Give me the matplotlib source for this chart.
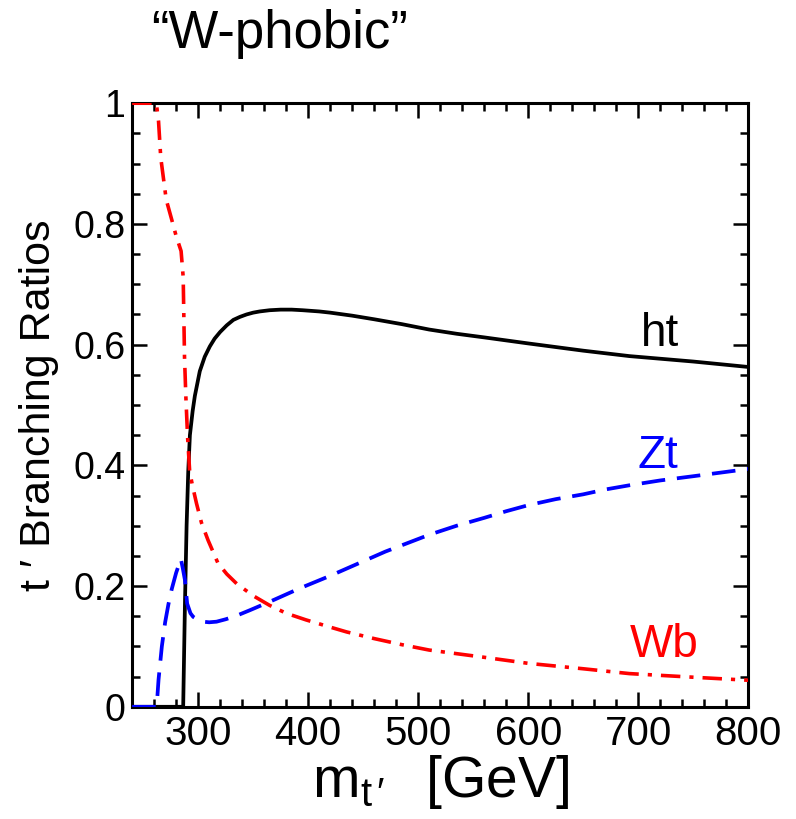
import matplotlib
matplotlib.use("Agg")
import matplotlib.pyplot as plt
from matplotlib.ticker import MultipleLocator

plt.rcParams['font.family'] = ['Liberation Sans', 'DejaVu Sans']
plt.rcParams['mathtext.fontset'] = 'custom'
plt.rcParams['mathtext.rm'] = 'Liberation Sans'
plt.rcParams['mathtext.it'] = 'Liberation Sans'
plt.rcParams['lines.scale_dashes'] = False

# ---- data ----
wb_x = [240, 262, 264, 266, 271, 276, 280, 284.5, 286.4, 287, 287.6, 288.8, 290.4, 292.3,
        295, 298.5, 303, 309, 318, 326, 335, 350, 365, 380, 398, 420, 435, 460, 485, 510,
        535, 560, 600, 650, 692, 750, 800]
wb_y = [1, 1, 0.97, 0.91, 0.84, 0.807, 0.78, 0.755, 0.712, 0.646, 0.58, 0.515, 0.447, 0.39,
        0.365, 0.337, 0.305, 0.276, 0.238, 0.22, 0.204, 0.184, 0.168, 0.155, 0.144, 0.132,
        0.124, 0.113, 0.103, 0.094, 0.088, 0.082, 0.072, 0.063, 0.055, 0.049, 0.044]

ht_x = [240, 286.4, 288, 289.5, 291, 292.5, 295, 297, 301.5, 306, 310.6, 315, 320, 326,
        332, 338, 344, 350, 356, 365, 375, 385, 395, 410, 420, 440, 460, 485, 510, 535, 560,
        600, 650, 692, 750, 800]
ht_y = [0, 0, 0.17, 0.30, 0.39, 0.45, 0.49, 0.515, 0.556, 0.58, 0.597, 0.610, 0.621, 0.632,
        0.641, 0.646, 0.650, 0.653, 0.655, 0.657, 0.658, 0.658, 0.657, 0.655, 0.653, 0.648,
        0.642, 0.634, 0.625, 0.618, 0.612, 0.602, 0.590, 0.581, 0.572, 0.563]

zt_x = [240, 262.3, 264, 267, 270, 273, 276, 280, 284.3, 286, 288, 290, 293, 295.5, 300,
        304.5, 310, 316.7, 325, 335, 347, 365, 392, 420, 435, 450, 470, 490, 510, 535, 560,
        580, 600, 625, 650, 670, 692, 720, 750, 775, 800]
zt_y = [0, 0, 0.045, 0.10, 0.14, 0.17, 0.195, 0.222, 0.245, 0.23, 0.21, 0.171, 0.155, 0.149,
        0.144, 0.141, 0.140, 0.141, 0.145, 0.151, 0.16, 0.174, 0.196, 0.217, 0.229, 0.241,
        0.257, 0.271, 0.285, 0.300, 0.313, 0.324, 0.334, 0.344, 0.352, 0.360, 0.367, 0.375,
        0.382, 0.388, 0.394]

labels = ["ht", "Zt", "Wb"]
label_pos = [(720, 0.617), (718, 0.415), (724, 0.102)]
colors = ["black", "blue", "red"]

fig = plt.figure(figsize=(7.96, 8.19), dpi=100)
ax = fig.add_axes([0.166, 0.137, 0.774, 0.737])

ax.plot(ht_x, ht_y, color="black", lw=2.7, solid_joinstyle='round', zorder=3)
ax.plot(zt_x, zt_y, color="blue", lw=2.7, dashes=(17, 8.5), zorder=3)
ax.plot(wb_x, wb_y, color="red", lw=2.6, dashes=(14, 6.5, 3, 6.5), zorder=3)

for t, (px, py), c in zip(labels, label_pos, colors):
    ax.text(px, py, t, color=c, fontsize=33, ha="center", va="center")

ax.set_xlim(240, 800)
ax.set_ylim(0, 1)
ax.xaxis.set_major_locator(MultipleLocator(100))
ax.xaxis.set_minor_locator(MultipleLocator(20))
ax.yaxis.set_minor_locator(MultipleLocator(0.05))
ax.set_yticks([0, 0.2, 0.4, 0.6, 0.8, 1.0])
ax.set_yticklabels(["0", "0.2", "0.4", "0.6", "0.8", "1"])

for s in ax.spines.values():
    s.set_linewidth(2.2)
ax.tick_params(which="both", direction="in", top=True, right=True, width=1.8)
ax.tick_params(which="major", length=11)
ax.tick_params(axis="x", which="major", pad=6, labelsize=29)
ax.tick_params(axis="y", which="major", pad=5, labelsize=27)
ax.tick_params(which="minor", length=6)

ax.set_ylabel("t \u2032 Branching Ratios", fontsize=31, labelpad=10)
ax.set_xlabel(r"m$_{\mathrm{t}\,\prime}$$\,$  [GeV]", fontsize=41, labelpad=0)

fig.text(0.19, 0.941, "\u201cW-phobic\u201d", fontsize=38, ha="left", va="baseline")

fig.savefig("out.png", dpi=100)
